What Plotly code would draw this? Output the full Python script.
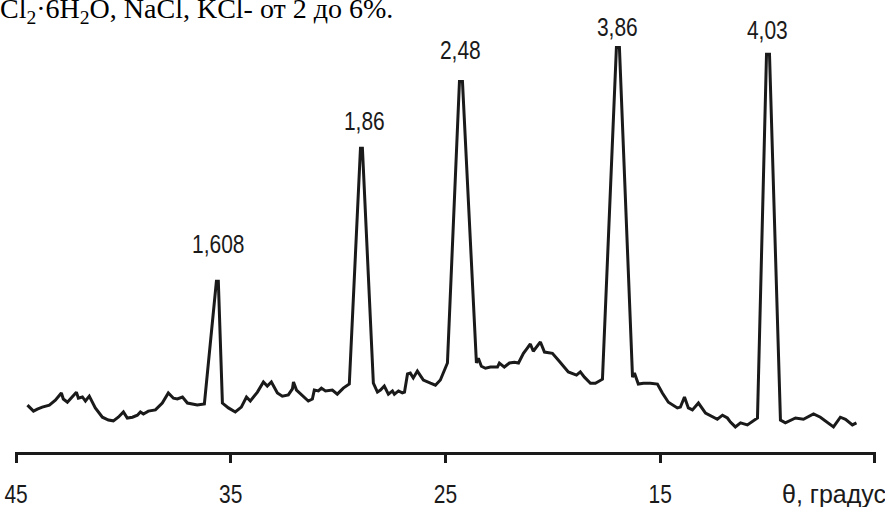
import plotly.graph_objects as go

# Diffraction angle theta (degrees) and relative intensity (%)
theta = [44.47, 44.19, 44.01, 43.78, 43.45, 43.17, 42.89, 42.80, 42.61, 42.38,
         42.19, 42.10, 41.91, 41.77, 41.59, 41.31, 40.98, 40.70, 40.47, 40.24,
         40.00, 39.82, 39.58, 39.35, 39.21, 39.07, 38.84, 38.51, 38.19, 37.91,
         37.67, 37.49, 37.25, 37.02, 36.56, 36.23, 35.67, 35.58, 35.39, 35.11,
         34.79, 34.51, 34.27, 34.09, 33.76, 33.48, 33.30, 33.11, 32.83, 32.60,
         32.32, 32.13, 32.08, 31.94, 31.71, 31.39, 31.20, 31.11, 30.92, 30.78,
         30.59, 30.27, 30.04, 29.76, 29.48, 28.96, 28.87, 28.36, 28.17, 28.03,
         27.85, 27.66, 27.47, 27.38, 27.19, 27.01, 26.91, 26.77, 26.64, 26.50,
         26.31, 26.03, 25.70, 25.47, 25.24, 24.91, 24.35, 24.21, 23.56, 23.47,
         23.33, 23.14, 22.91, 22.58, 22.49, 22.26, 22.02, 21.79, 21.60, 21.37,
         21.19, 21.05, 20.91, 20.58, 20.39, 20.02, 19.74, 19.28, 18.90, 18.72,
         18.53, 18.25, 18.02, 17.69, 17.04, 16.90, 16.29, 16.20, 16.02, 15.78,
         15.46, 15.13, 14.90, 14.62, 14.20, 14.06, 13.87, 13.69, 13.50, 13.22,
         12.89, 12.66, 12.34, 12.10, 11.87, 11.73, 11.50, 11.26, 10.94, 10.47,
         10.05, 9.91, 9.40, 9.17, 8.70, 8.33, 7.86, 7.54, 7.17, 6.93,
         6.61, 6.37, 6.05, 5.86]
intensity = [11.6, 10.1, 10.6, 11.1, 11.6, 12.8, 14.6, 13.1, 12.3, 13.6,
             14.8, 13.3, 13.6, 12.6, 13.8, 10.9, 8.6, 7.9, 7.7, 8.6,
             9.9, 8.4, 8.6, 9.1, 9.9, 9.4, 10.1, 10.4, 12.1, 14.6,
             13.3, 13.1, 13.6, 12.1, 11.6, 11.9, 42.2, 42.2, 12.1, 10.9,
             9.9, 11.1, 13.6, 12.6, 14.8, 17.3, 16.3, 17.3, 14.6, 13.8,
             14.1, 15.6, 17.3, 15.3, 14.1, 12.6, 13.1, 15.3, 15.1, 15.8,
             15.1, 15.3, 14.3, 15.8, 16.8, 75.1, 75.1, 17.0, 14.8, 15.3,
             16.3, 14.3, 15.1, 14.3, 15.1, 14.6, 14.8, 19.3, 19.5, 18.3,
             20.0, 17.8, 17.0, 16.5, 17.8, 22.0, 91.6, 91.6, 22.0, 23.2,
             21.2, 20.7, 21.0, 21.0, 22.0, 21.0, 22.0, 22.2, 22.0, 24.4,
             25.7, 26.7, 24.9, 27.2, 24.7, 24.4, 22.7, 19.8, 19.0, 19.8,
             18.5, 17.0, 17.0, 18.0, 100.0, 100.0, 18.5, 19.5, 16.8, 17.0,
             17.0, 16.8, 14.6, 12.3, 10.9, 11.1, 13.6, 10.9, 10.4, 12.1,
             9.6, 8.9, 8.1, 9.1, 8.4, 7.4, 6.2, 7.2, 6.7, 8.4,
             98.3, 98.3, 7.9, 7.2, 8.4, 8.1, 9.4, 8.6, 7.2, 6.2,
             8.6, 8.1, 6.7, 7.2]

# Peak labels (interplanar spacing d, Å)
peak_labels = ["1,608", "1,86", "2,48", "3,86", "4,03"]
peak_label_x = [35.55, 28.75, 24.28, 17.01, 10.02]
peak_label_y = [51.4, 81.8, 99.4, 105.1, 104.3]

tick_vals = [45, 35, 25, 15, 5]
tick_text = ["45", "35", "25", "15", ""]
axis_title = "θ, градус"
header_text = "Cl<sub>2</sub>·6H<sub>2</sub>O, NaCl, KCl- от 2 до 6%."

sans = "Liberation Sans, Arial, sans-serif"
ink = "#1a1a1a"

fig = go.Figure()
fig.add_trace(go.Scatter(
    x=theta, y=intensity, mode="lines",
    line=dict(color=ink, width=3, shape="linear"),
    hoverinfo="skip", showlegend=False,
))

for lab, lx, ly in zip(peak_labels, peak_label_x, peak_label_y):
    fig.add_annotation(x=lx, y=ly, text=lab, showarrow=False,
                       xanchor="center", yanchor="middle",
                       font=dict(family=sans, size=25, color=ink))

fig.add_annotation(xref="paper", yref="paper", x=0.889, y=-0.094,
                   text=axis_title, showarrow=False, xanchor="left", yanchor="middle",
                   font=dict(family=sans, size=25, color=ink))

fig.add_annotation(xref="paper", yref="paper", x=-0.020, y=0.992,
                   text=header_text, showarrow=False, xanchor="left", yanchor="middle",
                   font=dict(family="Liberation Serif, Times New Roman, serif", size=28, color="#000000"))

fig.update_xaxes(range=[45.05, 4.95], showgrid=False, zeroline=False, automargin=False,
                 showline=True, linecolor=ink, linewidth=3,
                 ticks="outside", ticklen=8, tickwidth=3, tickcolor=ink,
                 tickvals=tick_vals, ticktext=tick_text,
                 ticklabelstandoff=10,
                 tickfont=dict(family=sans, size=25, color=ink))
fig.update_yaxes(range=[0, 110], visible=False, showgrid=False, zeroline=False, automargin=False)

fig.update_layout(
    template="none",
    width=885, height=507,
    margin=dict(l=15, r=9, t=7, b=55),
    paper_bgcolor="white", plot_bgcolor="white",
)

# Remove the default page margin and condense the narrow-sans labels
# (peak labels and tick labels), since no condensed face is available offline.
post_js = """
document.body.style.margin = '0';
document.body.style.overflow = 'hidden';
var gd = document.getElementById('{plot_id}');
function condense(el, k) {
  var bb = el.getBBox();
  var cx = bb.x + bb.width / 2;
  var t = el.getAttribute('transform') || '';
  el.setAttribute('transform', t + ' translate(' + cx + ',0) scale(' + k + ',1) translate(' + (-cx) + ',0)');
}
gd.querySelectorAll('.xtick text').forEach(function (el) { condense(el, 0.84); });
[0, 1, 2, 3, 4].forEach(function (i) {
  gd.querySelectorAll('.annotation[data-index="' + i + '"] text').forEach(function (el) { condense(el, 0.84); });
});
"""

fig.write_html("out.html", post_script=post_js,
               config={"displayModeBar": False, "staticPlot": True})
